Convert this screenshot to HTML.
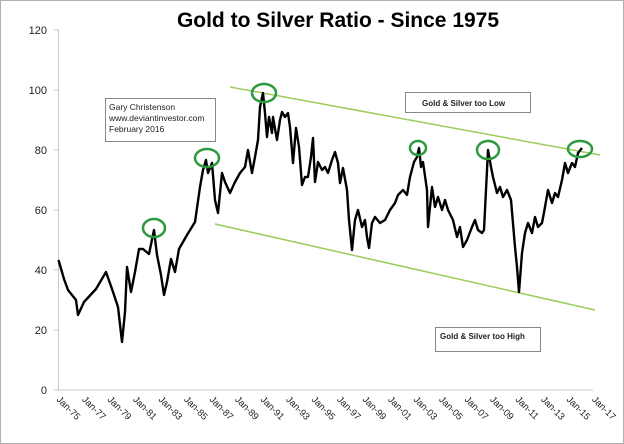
<!DOCTYPE html><html><head><style>body{margin:0;background:#fff}svg{display:block;font-family:"Liberation Sans",sans-serif}</style></head><body>
<svg width="624" height="444" xmlns="http://www.w3.org/2000/svg">
<rect x="0.5" y="0.5" width="623" height="443" fill="#fff" stroke="#b0b0b0"/>
<text x="338" y="27" font-size="21" font-weight="bold" text-anchor="middle" fill="#000">Gold to Silver Ratio - Since 1975</text>
<g stroke="#c8c8c8" stroke-width="1">
<line x1="58.5" y1="30" x2="58.5" y2="390"/><line x1="58.5" y1="390" x2="593" y2="390"/>
<line x1="54" y1="30" x2="58.5" y2="30"/><line x1="54" y1="90" x2="58.5" y2="90"/><line x1="54" y1="150" x2="58.5" y2="150"/><line x1="54" y1="210" x2="58.5" y2="210"/><line x1="54" y1="270" x2="58.5" y2="270"/><line x1="54" y1="330" x2="58.5" y2="330"/><line x1="54" y1="390" x2="58.5" y2="390"/>
</g>
<g font-size="11" text-anchor="end" fill="#222">
<text x="47" y="34">120</text><text x="47" y="94">100</text><text x="47" y="154">80</text><text x="47" y="214">60</text><text x="47" y="274">40</text><text x="47" y="334">20</text><text x="47" y="394">0</text>
</g>
<g stroke="#9ccc5c" stroke-width="1.5"><line x1="230" y1="87" x2="600" y2="155"/><line x1="215" y1="224" x2="595" y2="310"/></g>
<polyline fill="none" stroke="#000" stroke-width="2.4" stroke-linejoin="round" points="58.5,260 64,279 68,290 76,300 78,315 84,302 96,289 106,272 112,289 118,307 122,342 125,312 127,267 131,292 135,272 139,249 143,249 149,254 154,230 157,255 161,275 164,295 167,282 171,259 175,272 179,249 187,235 195,222 200,187 203,170 206,160 208,173 212,163 215,200 218,213 222,173 225,182 230,193 235,182 240,173 245,167 248,150 252,173 255,157 258,140 260,107 263,93 265,113 267,137 269,117 272,133 273,117 277,140 280,120 282,112 285,117 288,113 290,127 293,163 296,128 299,147 302,185 305,177 308,177 311,157 313,138 315,182 318,162 322,170 325,167 328,173 332,160 335,152 338,163 340,183 343,168 347,190 349,220 352,250 355,220 358,210 362,227 365,220 367,237 369,248 372,223 375,217 380,223 385,220 390,210 395,203 398,195 403,190 407,195 410,177 414,162 417,157 419,148 421,167 423,162 427,190 428,227 432,187 435,207 438,197 442,210 445,200 448,210 453,220 457,237 460,227 463,247 467,240 472,227 475,220 478,230 482,233 484,230 487,170 488,150 491,167 493,177 497,193 500,187 503,197 507,190 511,200 515,247 517,267 519,292 522,253 525,233 528,223 532,233 535,217 538,227 542,223 545,207 548,190 552,203 555,193 558,197 562,180 565,163 568,173 572,163 575,167 578,153 582,148"/>
<g fill="none" stroke="#2e9a3e" stroke-width="2.5">
<ellipse cx="154" cy="228" rx="11" ry="9"/><ellipse cx="207" cy="158" rx="12" ry="9"/><ellipse cx="264" cy="93" rx="12" ry="9"/><ellipse cx="418" cy="148" rx="8" ry="7"/><ellipse cx="488" cy="150" rx="11" ry="9"/><ellipse cx="580" cy="149" rx="12" ry="8"/>
</g>
<g stroke="#888" fill="#fff"><rect x="105.5" y="98.5" width="110" height="43"/><rect x="405.5" y="92.5" width="125" height="20"/><rect x="435.5" y="327.5" width="105" height="24"/></g>
<g font-size="8.5" fill="#222"><text x="109" y="110">Gary Christenson</text><text x="109" y="121">www.deviantinvestor.com</text><text x="109" y="132">February 2016</text></g>
<g font-size="8" font-weight="bold" fill="#222"><text x="422" y="106">Gold &amp; Silver too Low</text><text x="440" y="339">Gold &amp; Silver too High</text></g>
<g font-size="9.5" fill="#222">
<text transform="translate(56,400) rotate(45)">Jan-75</text><text transform="translate(81.5,400) rotate(45)">Jan-77</text><text transform="translate(107,400) rotate(45)">Jan-79</text><text transform="translate(132.5,400) rotate(45)">Jan-81</text><text transform="translate(158,400) rotate(45)">Jan-83</text><text transform="translate(183.5,400) rotate(45)">Jan-85</text><text transform="translate(209,400) rotate(45)">Jan-87</text><text transform="translate(234.5,400) rotate(45)">Jan-89</text><text transform="translate(260,400) rotate(45)">Jan-91</text><text transform="translate(285.5,400) rotate(45)">Jan-93</text><text transform="translate(311,400) rotate(45)">Jan-95</text><text transform="translate(336.5,400) rotate(45)">Jan-97</text><text transform="translate(362,400) rotate(45)">Jan-99</text><text transform="translate(387.5,400) rotate(45)">Jan-01</text><text transform="translate(413,400) rotate(45)">Jan-03</text><text transform="translate(438.5,400) rotate(45)">Jan-05</text><text transform="translate(464,400) rotate(45)">Jan-07</text><text transform="translate(489.5,400) rotate(45)">Jan-09</text><text transform="translate(515,400) rotate(45)">Jan-11</text><text transform="translate(540.5,400) rotate(45)">Jan-13</text><text transform="translate(566,400) rotate(45)">Jan-15</text><text transform="translate(591.5,400) rotate(45)">Jan-17</text>
</g>
</svg>
</body></html>
